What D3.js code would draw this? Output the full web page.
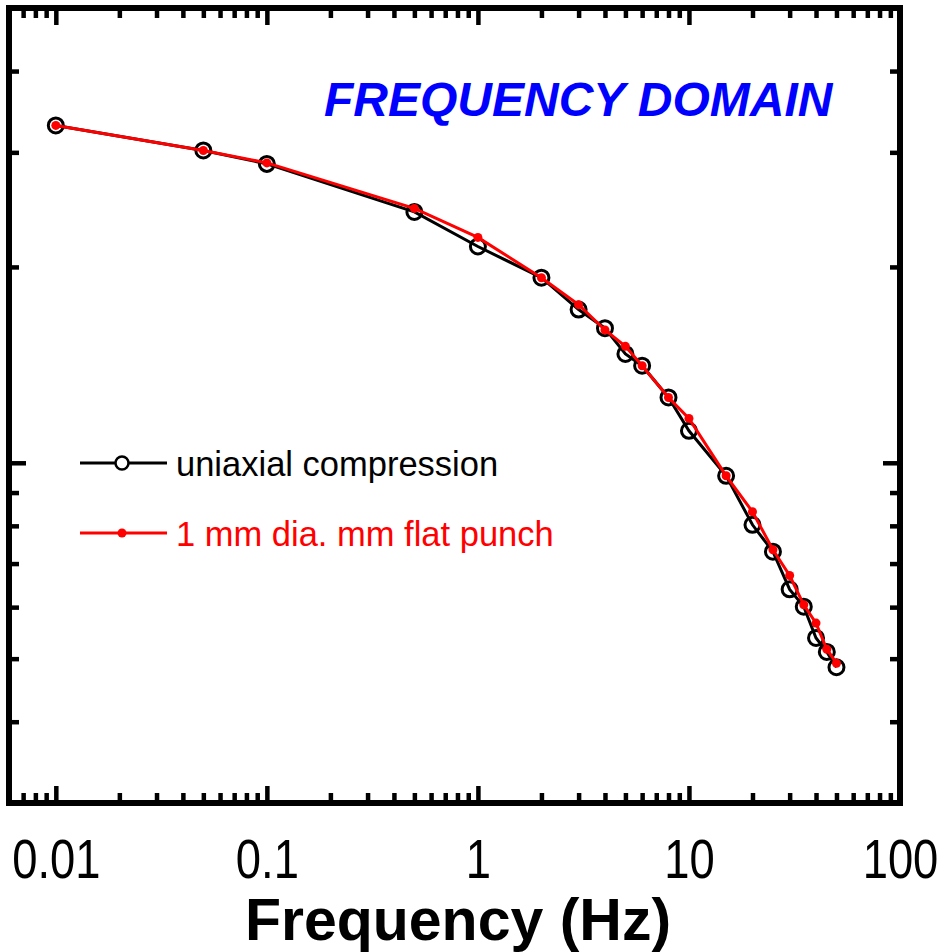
<!DOCTYPE html>
<html>
<head>
<meta charset="utf-8">
<script src="https://cdn.jsdelivr.net/npm/d3@7"></script>
<style>
  body { margin: 0; background: #fff; }
  text { font-family: "Liberation Sans", Arial, sans-serif; }
</style>
</head>
<body>
<div id="chart"></div>
<script>
// Data
let freq = [0.01, 0.05, 0.1, 0.5, 1, 2, 3, 4, 5, 6, 8, 10, 15, 20, 25, 30, 35, 40, 45, 50];
let uniaxial = [33.0, 30.2, 28.8, 24.3, 21.5, 19.25, 17.2, 16.1, 14.7, 14.1, 12.6, 11.2, 9.55, 8.03, 7.30, 6.39, 6.01, 5.38, 5.12, 4.85];
let punch = [33.0, 30.2, 28.9, 24.6, 22.2, 19.25, 17.5, 16.0, 15.1, 14.1, 12.6, 11.7, 9.55, 8.41, 7.35, 6.71, 6.05, 5.67, 5.17, 4.92];
let seriesNames = ["uniaxial compression", "1 mm dia. mm flat punch"];
let xMajor = [0.01, 0.1, 1, 10, 100];
let xTickLabels = ["0.01", "0.1", "1", "10", "100"];
let yMajor = [10];

// Layout
let margin = { top: 8, right: 41, bottom: 149, left: 9 };
let svgWidth = 941, svgHeight = 952;
let chartWidth = svgWidth - margin.left - margin.right;
let chartHeight = svgHeight - margin.top - margin.bottom;

let svg = d3.select('#chart')
            .append('svg')
            .attr('width', svgWidth)
            .attr('height', svgHeight);

let chartGrp = svg.append('g')
            .attr('transform', `translate(${margin.left}, ${margin.top})`);

// Scales
let xScale = d3.scaleLog().domain([0.006, 100]).range([0, chartWidth]);
let yScale = d3.scaleLog().domain([3, 50]).range([chartHeight, 0]);

// minor ticks: 2..9 of each decade inside the domain
let xMinor = [];
[0.001, 0.01, 0.1, 1, 10].forEach(d => {
    for (let k = 2; k <= 9; k++) {
        let v = +(d * k).toPrecision(3);
        if (v > 0.0065 && v < 100) xMinor.push(v);
    }
});
let yMinor = [];
[1, 10].forEach(d => {
    for (let k = 2; k <= 9; k++) {
        let v = d * k;
        if (v > 3 && v < 50) yMinor.push(v);
    }
});

// Axes (ticks pointing inward on all four sides)
function tickAxis(axisFn, scale, values, size, transform) {
    let g = chartGrp.append('g')
        .attr('transform', transform)
        .call(axisFn(scale).tickValues(values).tickSize(size).tickFormat(''));
    g.select('.domain').remove();
    g.selectAll('line').attr('stroke', '#000').attr('stroke-width', 4.5);
    return g;
}
tickAxis(d3.axisBottom, xScale, xMinor, -10, `translate(0, ${chartHeight})`);
tickAxis(d3.axisBottom, xScale, xMajor, -17, `translate(0, ${chartHeight})`);
tickAxis(d3.axisTop, xScale, xMinor, -10, 'translate(0, 0)');
tickAxis(d3.axisTop, xScale, xMajor, -17, 'translate(0, 0)');
tickAxis(d3.axisLeft, yScale, yMinor, -10, 'translate(0, 0)');
tickAxis(d3.axisLeft, yScale, yMajor, -17, 'translate(0, 0)');
tickAxis(d3.axisRight, yScale, yMinor, -10, `translate(${chartWidth}, 0)`);
tickAxis(d3.axisRight, yScale, yMajor, -17, `translate(${chartWidth}, 0)`);

// X tick labels (condensed face)
let xLab = chartGrp.append('g')
    .attr('transform', `translate(0, ${chartHeight})`)
    .call(d3.axisBottom(xScale).tickValues(xMajor).tickSize(0)
        .tickFormat((d, i) => xTickLabels[i]));
xLab.select('.domain').remove();
xLab.selectAll('text')
    .attr('y', 0)
    .attr('dy', 0)
    .attr('transform', 'translate(0, 75) scale(0.81, 1)')
    .attr('font-size', 56)
    .attr('font-family', '"Liberation Sans", Arial, sans-serif')
    .attr('fill', '#000');

// Frame
chartGrp.append('rect')
    .attr('width', chartWidth)
    .attr('height', chartHeight)
    .attr('fill', 'none')
    .attr('stroke', '#000')
    .attr('stroke-width', 6);

// Lines
let line = d3.line().x(d => xScale(d[0])).y(d => yScale(d[1]));
let uniData = freq.map((f, i) => [f, uniaxial[i]]);
let punchData = freq.map((f, i) => [f, punch[i]]);

chartGrp.append('path')
    .datum(uniData)
    .attr('d', line)
    .attr('fill', 'none')
    .attr('stroke', '#000')
    .attr('stroke-width', 3);

chartGrp.selectAll('circle.uni')
    .data(uniData)
    .enter()
    .append('circle')
    .attr('class', 'uni')
    .attr('cx', d => xScale(d[0]))
    .attr('cy', d => yScale(d[1]))
    .attr('r', 7.5)
    .attr('fill', 'none')
    .attr('stroke', '#000')
    .attr('stroke-width', 3);

chartGrp.append('path')
    .datum(punchData)
    .attr('d', line)
    .attr('fill', 'none')
    .attr('stroke', '#ff0000')
    .attr('stroke-width', 3);

chartGrp.selectAll('circle.punch')
    .data(punchData)
    .enter()
    .append('circle')
    .attr('class', 'punch')
    .attr('cx', d => xScale(d[0]))
    .attr('cy', d => yScale(d[1]))
    .attr('r', 4.5)
    .attr('fill', '#ff0000');

// Legend
let legend = svg.append('g');
let legendRows = [
    { name: seriesNames[0], color: '#000', y: 463, open: true },
    { name: seriesNames[1], color: '#ff0000', y: 533, open: false }
];
legendRows.forEach(r => {
    legend.append('line')
        .attr('x1', 80).attr('x2', 167)
        .attr('y1', r.y).attr('y2', r.y)
        .attr('stroke', r.color)
        .attr('stroke-width', 3);
    if (r.open) {
        legend.append('circle')
            .attr('cx', 122).attr('cy', r.y).attr('r', 6.5)
            .attr('fill', '#fff').attr('stroke', r.color).attr('stroke-width', 2.5);
    } else {
        legend.append('circle')
            .attr('cx', 122).attr('cy', r.y).attr('r', 4.5)
            .attr('fill', r.color);
    }
    legend.append('text')
        .attr('x', 176)
        .attr('y', r.y + 13)
        .attr('font-size', 34.5)
        .attr('fill', r.color)
        .text(r.name);
});

// Title inside plot
svg.append('text')
    .attr('x', 324)
    .attr('y', 116)
    .attr('font-size', 48)
    .attr('font-weight', 'bold')
    .attr('font-style', 'italic')
    .attr('fill', '#0000ff')
    .text('FREQUENCY DOMAIN');

// X axis title
svg.append('text')
    .attr('x', 458)
    .attr('y', 940)
    .attr('text-anchor', 'middle')
    .attr('font-size', 59)
    .attr('font-weight', 'bold')
    .attr('fill', '#000')
    .text('Frequency (Hz)');
</script>
</body>
</html>
